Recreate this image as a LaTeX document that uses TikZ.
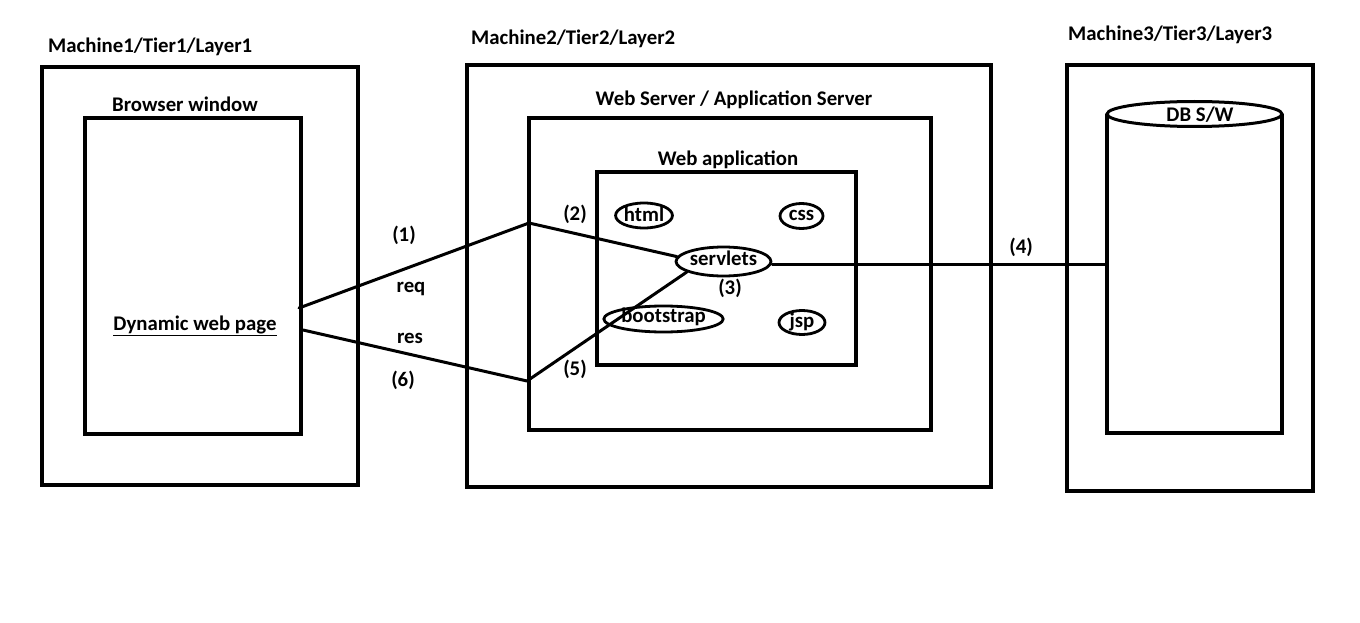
\documentclass[tikz,border=0pt]{standalone}
\usepackage{fontspec}
\setmainfont{Carlito}
\usetikzlibrary{shapes.geometric}
\tikzset{
  box/.style={draw, line width=3.5pt, rectangle, inner sep=0pt},
  ell/.style={draw, line width=2.8pt, ellipse, inner sep=0pt, text height=12pt, text depth=2pt, font=\fontsize{20.8}{21}\selectfont\bfseries},
  lbl/.style={font=\fontsize{20.8}{21}\selectfont\bfseries, inner sep=0pt},
  wire/.style={line width=3pt, line join=round, line cap=round},
}
\begin{document}
\begin{tikzpicture}[x=1pt,y=-1pt]
\useasboundingbox (0,0) rectangle (1360,623);
% Machine 1
\node[box, minimum width=316pt, minimum height=418pt] (m1) at (200,276) {};
\node[box, minimum width=216pt, minimum height=316pt] (br) at (193,276) {};
\node[lbl, anchor=base west] (m1l) at (48,53) {Machine1/Tier1/Layer1};
\node[lbl, anchor=base] (brl) at (185,112) {Browser window};
\node[lbl, anchor=base] (dyn) at (195,330) {\underline{Dynamic web page}};
% Machine 2
\node[box, minimum width=524pt, minimum height=422pt] (m2) at (729,276) {};
\node[box, minimum width=402pt, minimum height=312pt] (ws) at (730,274) {};
\node[box, minimum width=259pt, minimum height=193pt] (wa) at (726.5,268.5) {};
\node[lbl, anchor=base west] (m2l) at (471,45) {Machine2/Tier2/Layer2};
\node[lbl, anchor=base] (wsl) at (734,106) {Web Server / Application Server};
\node[lbl, anchor=base] (wal) at (728,165) {Web application};
\node[ell, text depth=0pt, minimum width=56pt, minimum height=25pt] (html) at (644,215.5) {html};
\node[ell, text depth=4pt, minimum width=43pt, minimum height=25pt] (css) at (801.5,216) {css};
\node[ell, text depth=5pt, minimum width=81pt, minimum height=29pt] (sv) at (723.5,261.5) {servlets};
\node[ell, text depth=6pt, minimum width=92pt, minimum height=26pt] (bs) at (663.5,319) {bootstrap};
\node[ell, minimum width=46pt, minimum height=24pt] (jsp) at (802,322.5) {jsp};
% Machine 3
\node[box, minimum width=246pt, minimum height=426pt] (m3) at (1190,278) {};
\node[lbl, anchor=base west] (m3l) at (1068,41) {Machine3/Tier3/Layer3};
\node[inner sep=0pt, minimum width=175pt, minimum height=332pt] (db) at (1194.5,267) {};
\draw[line width=3.5pt, line join=miter]
  (db.west |- 0,114) -- (db.south west) -- (db.south east) -- (db.east |- 0,114);
\draw[line width=3pt] (1194.5,114) ellipse [x radius=87.5pt, y radius=12.5pt];
\node[lbl, anchor=base] (dbl) at (1200,122) {DB S/W};
% connectors
\coordinate (r0) at (299,308);
\coordinate (j1) at (529,223);
\coordinate (s0) at (303,330);
\coordinate (j2) at (527,381);
\coordinate (e4) at (1107,264);
\draw[wire] (r0) -- (j1) -- (sv.174);
\draw[wire] (s0) -- (j2) -- (sv.196);
\draw[wire] (e4 -| sv.east) -- (e4);
% labels
\node[lbl] (n1) at (404,235) {(1)};
\node[lbl, anchor=base] (req) at (411,292) {req};
\node[lbl, anchor=base] (res) at (410,343) {res};
\node[lbl] (n6) at (403,380) {(6)};
\node[lbl] (n2) at (575,214) {(2)};
\node[lbl] (n5) at (575,369) {(5)};
\node[lbl] (n3) at (730,288) {(3)};
\node[lbl] (n4) at (1021,247) {(4)};
\end{tikzpicture}
\end{document}
